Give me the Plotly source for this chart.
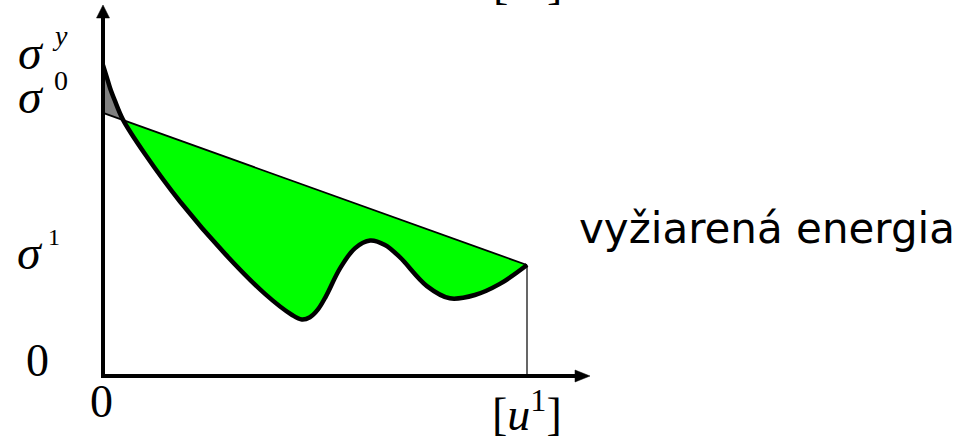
import plotly.graph_objects as go

# Softening curve sigma(u): sampled points of the stress-displacement response
u_curve = [0.0, 0.009, 0.017, 0.028, 0.047, 0.099, 0.182, 0.288, 0.382, 0.446,
           0.469, 0.488, 0.507, 0.526, 0.559, 0.594, 0.630, 0.665, 0.700, 0.764,
           0.818, 0.877, 0.936, 1.0]
s_curve = [2.80, 2.69, 2.59, 2.48, 2.31, 2.00, 1.57, 1.10, 0.74, 0.55,
           0.51, 0.53, 0.60, 0.72, 0.97, 1.15, 1.22, 1.18, 1.07, 0.81,
           0.70, 0.73, 0.83, 1.00]

# Straight secant from (0, sigma0) to (u1, sigma1)
u_line = [0.0, 1.0]
s_line = [2.37, 1.00]

# index of the point where the curve crosses the secant
i_cross = 4

# Pixel scale of the drawing (origin at 103,376; u1 -> 424 px, unit sigma -> 111 px)
W, H = 962, 440
ox, oy = 103, 376
px_u, px_s = 424.0, 111.0
x_range = [-ox / px_u, (W - ox) / px_u]
y_range = [-(H - oy) / px_s, oy / px_s]


def du(px):
    return px / px_u


def ds(px):
    return px / px_s


def line_at(u):
    return s_line[0] + (s_line[1] - s_line[0]) * (u - u_line[0]) / (u_line[1] - u_line[0])


fig = go.Figure()

# green area between the secant and the curve (released energy)
fig.add_trace(go.Scatter(
    x=[u_curve[i_cross], u_line[1]], y=[line_at(u_curve[i_cross]), s_line[1]],
    mode="lines", line=dict(width=0, color="rgba(0,0,0,0)"), hoverinfo="skip"))
fig.add_trace(go.Scatter(
    x=u_curve[i_cross:], y=s_curve[i_cross:], mode="lines",
    line=dict(width=0, color="rgba(0,0,0,0)", shape="spline", smoothing=1.0),
    fill="tonexty", fillcolor="#00ff00", hoverinfo="skip"))

# gray sliver between the axis, the curve and the secant
fig.add_trace(go.Scatter(
    x=[u_line[0]] + u_curve[:i_cross + 1], y=[s_line[0]] + s_curve[:i_cross + 1],
    mode="lines", line=dict(width=0, color="rgba(0,0,0,0)"),
    fill="toself", fillcolor="#808080", hoverinfo="skip"))

# secant
fig.add_trace(go.Scatter(x=u_line, y=s_line, mode="lines",
                         line=dict(color="black", width=1.8), hoverinfo="skip"))
# vertical drop at u1
fig.add_trace(go.Scatter(x=[u_line[1], u_line[1]], y=[0, s_line[1]], mode="lines",
                         line=dict(color="black", width=1.2), hoverinfo="skip"))
# the curve itself
fig.add_trace(go.Scatter(x=u_curve, y=s_curve, mode="lines",
                         line=dict(color="black", width=4.5, shape="spline", smoothing=1.0),
                         hoverinfo="skip"))

# coordinate axes with arrow heads
y_tip = ds(oy - 5)
x_tip = du(590 - ox)
head_len_y, head_half_y = ds(13), du(6.5)
head_len_x, head_half_x = du(15), ds(6)
shapes = [
    dict(type="line", x0=0, y0=-ds(2), x1=0, y1=y_tip - head_len_y + ds(1),
         line=dict(color="black", width=4)),
    dict(type="line", x0=-du(2), y0=0, x1=x_tip - head_len_x + du(1), y1=0,
         line=dict(color="black", width=4)),
    dict(type="path",
         path=f"M {-head_half_y} {y_tip - head_len_y} L 0 {y_tip} L {head_half_y} {y_tip - head_len_y} Z",
         fillcolor="black", line=dict(color="black", width=0.5)),
    dict(type="path",
         path=f"M {x_tip - head_len_x} {head_half_x} L {x_tip} 0 L {x_tip - head_len_x} {-head_half_x} Z",
         fillcolor="black", line=dict(color="black", width=0.5)),
]


def serif(size):
    return dict(family="Liberation Serif", size=size, color="black")


sans = dict(family="DejaVu Sans", size=42, color="black")


def label(text, x, y, dx, dy, font, xanchor="center"):
    return dict(x=x, y=y, text=text, xanchor=xanchor, yanchor="middle",
                xshift=dx, yshift=dy, font=font, showarrow=False,
                xref="x", yref="y")


annotations = [
    # sigma^y at the peak of the curve
    label("<i>σ</i>", 0, s_curve[0], -72, 13, serif(48)),
    label("<i>y</i>", 0, s_curve[0], -43, 30, serif(28)),
    # sigma^0 at the start of the secant
    label("<i>σ</i>", 0, s_line[0], -72, 16, serif(48)),
    label("0", 0, s_line[0], -42, 32, serif(28)),
    # sigma^1 at the end of the secant
    label("<i>σ</i>", 0, s_line[1], -73, 13, serif(48)),
    label("1", 0, s_line[1], -49, 28, serif(24)),
    # zeros at the origin
    label("0", 0, 0, -66, 16, serif(46)),
    label("0", 0, 0, -2, -25, serif(46)),
    # axis labels
    label("[<i>u</i><sup>1</sup>]", u_line[1], 0, 0, -35, serif(46)),
    label("[<i>σ</i><sup>1</sup>]", u_line[1], y_range[1], 0, 20, serif(46)),
    label("vyžiarená energia", u_line[1], s_line[1], 50, 37, sans, xanchor="left"),
]

fig.update_layout(
    width=W, height=H, margin=dict(l=0, r=0, t=0, b=0),
    paper_bgcolor="white", plot_bgcolor="white", showlegend=False,
    xaxis=dict(visible=False, range=x_range, fixedrange=True),
    yaxis=dict(visible=False, range=y_range, fixedrange=True),
    shapes=shapes, annotations=annotations,
)

fig.write_html("out.html", config={"displayModeBar": False})
